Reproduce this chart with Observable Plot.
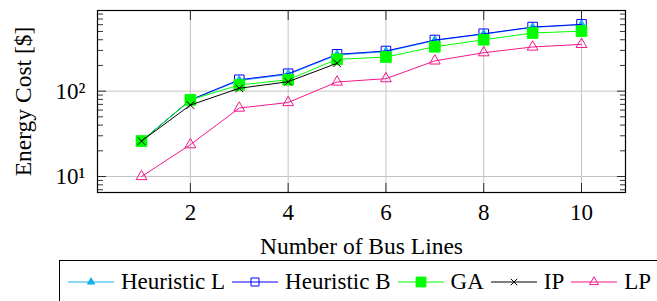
<!DOCTYPE html>
<html><head><meta charset="utf-8">
<script src="https://cdn.jsdelivr.net/npm/d3@7"></script>
<script src="https://cdn.jsdelivr.net/npm/@observablehq/plot@0.6"></script>
<style>
html,body{margin:0;padding:0;background:#fff;}
body{width:657px;height:301px;overflow:hidden;position:relative;font-family:"Liberation Serif",serif;}
#chart{position:absolute;left:0;top:0;}
#chart svg text{font-family:"Liberation Serif",serif;}
#legend{position:absolute;left:59px;top:260px;width:660px;height:60px;border:1.2px solid #000;box-sizing:border-box;display:flex;align-items:flex-start;padding-left:8px;padding-top:8px;font-size:23px;color:#000;white-space:nowrap;font-family:"Liberation Serif",serif;}
#legend .item{display:flex;align-items:center;margin-right:7px;}
#legend svg{margin-right:7px;}
</style></head><body>
<div id="chart"></div>
<div id="legend"></div>
<script>
// ---- data ----
const busLines = [1, 2, 3, 4, 5, 6, 7, 8, 9, 10];
const seriesNames = ["Heuristic L", "Heuristic B", "GA", "IP", "LP"];
const heuristicL = [26, 78, 133, 157, 265, 290, 392, 465, 558, 600];
const heuristicB = [26, 79, 136, 160, 270, 295, 397, 470, 563, 605];
const ga = [26, 79, 118, 136, 236, 251, 331, 400, 479, 505];
const ip = [26, 68.7, 108, 129, 212];
const lp = [10, 23.6, 63.4, 73.6, 128, 140, 226, 282, 329, 353];
const xTicks = [2, 4, 6, 8, 10];
const yTicks = [10, 100];
const yTickLabels = ["10¹", "10²"];
const yMinorTicks = [7, 8, 9, 20, 30, 40, 50, 60, 70, 80, 90, 200, 300, 400, 500, 600, 700, 800];

// ---- styles ----
const seriesValues = [heuristicL, heuristicB, ga, ip, lp];
const styles = {
  "Heuristic L": {color: "#14b1ea", symbol: "triangle", r: 3.2, fill: "#14b1ea", stroke: "#14b1ea"},
  "Heuristic B": {color: "#0000ff", symbol: "square", r: 5.4, fill: "none", stroke: "#0000ff"},
  "GA": {color: "#00ff00", symbol: "square", r: 6, fill: "#00ff00", stroke: "#00ff00"},
  "IP": {color: "#000000", symbol: "times", r: 3.6, fill: "none", stroke: "#000000"},
  "LP": {color: "#f2188c", symbol: "triangle", r: 4, fill: "none", stroke: "#f2188c"}
};

const rows = [];
seriesNames.forEach((s, i) => seriesValues[i].forEach((v, j) => rows.push({series: s, x: busLines[j], y: v})));

const font = "Liberation Serif";
const seriesMarks = seriesNames.flatMap(s => {
  const d = rows.filter(r => r.series === s);
  const st = styles[s];
  return [
    Plot.line(d, {x: "x", y: "y", stroke: st.color, strokeWidth: 1}),
    Plot.dot(d, {x: "x", y: "y", symbol: st.symbol, r: st.r, fill: st.fill, stroke: st.stroke, strokeWidth: 1})
  ];
});

const chart = Plot.plot({
  width: 657,
  height: 258,
  marginTop: 10,
  marginBottom: 66,
  marginLeft: 97,
  marginRight: 32,
  style: {fontFamily: "'Liberation Serif', serif", fontSize: "23px", color: "#000", background: "#fff"},
  x: {domain: [0.1, 10.9]},
  y: {type: "log", domain: [6.5, 880]},
  marks: [
    Plot.gridX(xTicks, {stroke: "#c4c4c4", strokeOpacity: 1, strokeWidth: 1}),
    Plot.gridY(yTicks, {stroke: "#c4c4c4", strokeOpacity: 1, strokeWidth: 1}),
    Plot.axisX(xTicks, {anchor: "bottom", tickSize: -9, tickFormat: () => "", label: null, strokeWidth: 0.8}),
    Plot.axisX(xTicks, {anchor: "top", tickSize: -9, tickFormat: () => "", label: null, strokeWidth: 0.8}),
    Plot.axisY(yTicks, {anchor: "left", tickSize: -9, tickFormat: () => "", label: null, strokeWidth: 0.8}),
    Plot.axisY(yTicks, {anchor: "right", tickSize: -9, tickFormat: () => "", label: null, strokeWidth: 0.8}),
    Plot.axisY(yMinorTicks, {anchor: "left", tickSize: -6, tickFormat: () => "", label: null, strokeWidth: 0.8}),
    Plot.axisY(yMinorTicks, {anchor: "right", tickSize: -6, tickFormat: () => "", label: null, strokeWidth: 0.8}),
    Plot.axisX(xTicks, {anchor: "bottom", tickSize: 0, tickPadding: 11, label: null, fontSize: 23, fontFamily: font}),
    Plot.axisY(yTicks, {anchor: "left", tickSize: 0, tickPadding: 12, label: null, fontSize: 23, fontFamily: font,
      tickFormat: d => yTickLabels[yTicks.indexOf(d)]}),
    Plot.text(["Number of Bus Lines"], {frameAnchor: "bottom", textAnchor: "middle", text: d => d, dy: 54, fontSize: 23.5, fontFamily: font, lineAnchor: "middle"}),
    Plot.text(["Energy Cost [$]"], {frameAnchor: "left", textAnchor: "middle", text: d => d, dx: -74, rotate: -90, fontSize: 23.5, fontFamily: font, lineAnchor: "middle"}),
    ...seriesMarks,
    Plot.frame({stroke: "#000", strokeWidth: 1.2})
  ]
});
document.getElementById("chart").appendChild(chart);

// ---- legend ----
const legend = d3.select("#legend");
seriesNames.forEach(s => {
  const st = styles[s];
  const item = legend.append("div").attr("class", "item");
  const svg = item.append("svg").attr("width", 46).attr("height", 20);
  svg.append("line").attr("x1", 0).attr("x2", 46).attr("y1", 10).attr("y2", 10)
    .attr("stroke", st.color).attr("stroke-width", 1);
  const symType = {triangle: d3.symbolTriangle, square: d3.symbolSquare, times: d3.symbolTimes}[st.symbol];
  svg.append("path").attr("transform", "translate(23,10)")
    .attr("d", d3.symbol(symType, Math.PI * st.r * st.r * (s === "GA" ? 0.85 : 0.7))())
    .attr("fill", st.fill).attr("stroke", st.stroke).attr("stroke-width", 1);
  item.append("span").text(s);
});
</script>
</body></html>
